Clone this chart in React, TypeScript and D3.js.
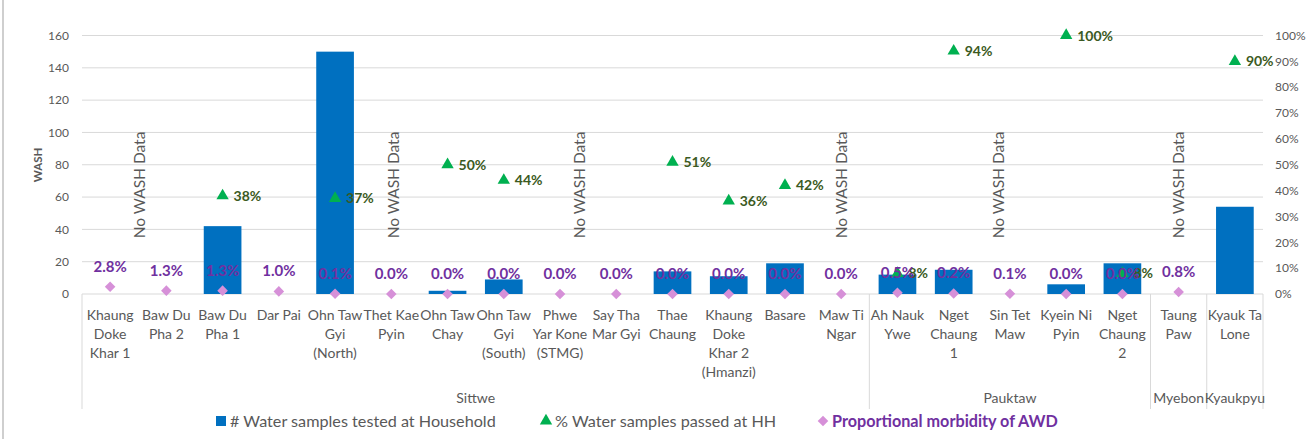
import React from "react";
import * as d3 from "d3";

// ---------- data ----------
const categories = [
  "Khaung\nDoke\nKhar 1",
  "Baw Du\nPha 2",
  "Baw Du\nPha 1",
  "Dar Pai",
  "Ohn Taw\nGyi\n(North)",
  "Thet Kae\nPyin",
  "Ohn Taw\nChay",
  "Ohn Taw\nGyi\n(South)",
  "Phwe\nYar Kone\n(STMG)",
  "Say Tha\nMar Gyi",
  "Thae\nChaung",
  "Khaung\nDoke\nKhar 2\n(Hmanzi)",
  "Basare",
  "Maw Ti\nNgar",
  "Ah Nauk\nYwe",
  "Nget\nChaung\n1",
  "Sin Tet\nMaw",
  "Kyein Ni\nPyin",
  "Nget\nChaung\n2",
  "Taung\nPaw",
  "Kyauk Ta\nLone",
];
const groupNames = ["Sittwe", "Pauktaw", "Myebon", "Kyaukpyu"];
const groupSizes = [14, 5, 1, 1];

const waterTested: (number | null)[] = [
  null, null, 42, null, 150, null, 2, 9, null, null, 14, 11, 19, null, 12, 15, null, 6, 19, null, 54,
];
const passedHH: (number | null)[] = [
  null, null, 0.38, null, 0.37, null, 0.5, 0.44, null, null, 0.51, 0.36, 0.42, null, 0.08, 0.94, null, 1.0, 0.08, null, 0.9,
];
const morbidityAWD: (number | null)[] = [
  0.028, 0.013, 0.013, 0.01, 0.001, 0, 0, 0, 0, 0, 0, 0, 0, 0, 0.005, 0.002, 0.001, 0, 0, 0.008, null,
];
const noWashIndex = [1, 5, 8, 13, 16, 19];
const noWashText = "No WASH Data";
const leftTicks = [0, 20, 40, 60, 80, 100, 120, 140, 160];
const rightTicks = [0, 0.1, 0.2, 0.3, 0.4, 0.5, 0.6, 0.7, 0.8, 0.9, 1.0];
const legendLabels = [
  "# Water samples tested at Household",
  "% Water samples passed at HH",
  "Proportional morbidity of AWD",
];
const yTitle = "WASH";

// ---------- layout ----------
const W = 1308;
const H = 439;
const X0 = 82;
const X1 = 1263;
const Y0 = 294;
const YTOP = 35.5;
const noWashNudge = [-27, 2, 20, 0, -11, 0];
const FONT = "Lato, 'Open Sans', sans-serif";
const GREY = "#595959";
const GRID = "#D9D9D9";
const BLUE = "#0070C0";
const GREEN = "#00B050";
const GREEN_TXT = "#3B5A22";
const PURPLE = "#7030A0";
const PINK = "#D690D8";

export default function App() {
  const x = d3
    .scaleBand<number>()
    .domain(d3.range(categories.length))
    .range([X0, X1])
    .paddingInner(0.33)
    .paddingOuter(0.165);
  const step = x.step();
  const cx = (i: number) => (x(i) as number) + x.bandwidth() / 2;
  const yL = d3.scaleLinear().domain([0, 160]).range([Y0, YTOP]);
  const yR = d3.scaleLinear().domain([0, 1]).range([Y0, YTOP]);
  const pct0 = d3.format(".0%");
  const pct1 = d3.format(".1%");

  // group boundaries
  const bounds: number[] = [X0];
  let acc = 0;
  groupSizes.forEach((s) => {
    acc += s;
    bounds.push(X0 + acc * step);
  });

  const tri = d3.symbol().type(d3.symbolTriangle).size(66)() as string;
  const dia = d3.symbol().type(d3.symbolSquare).size(56)() as string;

  return (
    <svg
      width={W}
      height={H}
      style={{ position: "absolute", left: 0, top: 0, background: "#fff" }}
      fontFamily={FONT}
    >
      <rect x={0} y={0} width={W} height={H} fill="#fff" />
      <line x1={3} x2={3} y1={0} y2={H} stroke="#BFBFBF" strokeWidth={1.5} />

      {/* gridlines */}
      {leftTicks.slice(1).map((t) => (
        <line key={"g" + t} x1={X0} x2={X1} y1={yL(t)} y2={yL(t)} stroke={GRID} strokeWidth={1} />
      ))}
      {/* category axis */}
      <line x1={X0} x2={X1} y1={Y0} y2={Y0} stroke={GRID} strokeWidth={1} />
      {bounds.map((b, i) => (
        <line key={"b" + i} x1={b} x2={b} y1={Y0} y2={409} stroke={GRID} strokeWidth={1} />
      ))}

      {/* left ticks */}
      {leftTicks.map((t) => (
        <text key={"lt" + t} x={69} y={yL(t)} dy="0.35em" textAnchor="end" fontSize={12} fill={GREY}>
          {t}
        </text>
      ))}
      {/* right ticks */}
      {rightTicks.map((t) => (
        <text key={"rt" + t} x={1275} y={yR(t)} dy="0.35em" textAnchor="start" fontSize={12} fill={GREY}>
          {pct0(t)}
        </text>
      ))}
      <text
        transform={`translate(38,165) rotate(-90)`}
        textAnchor="middle"
        dy="0.35em"
        fontSize={11.5}
        fontWeight="bold"
        fill={GREY}
      >
        {yTitle}
      </text>

      {/* bars */}
      {waterTested.map((v, i) =>
        v == null ? null : (
          <rect
            key={"bar" + i}
            x={x(i)}
            y={yL(v)}
            width={x.bandwidth()}
            height={Y0 - yL(v)}
            fill={BLUE}
          />
        )
      )}

      {/* No WASH Data notes */}
      {noWashIndex.map((ci, k) => (
        <text
          key={"nw" + ci}
          transform={`translate(${cx(ci) + noWashNudge[k]},185) rotate(-90)`}
          textAnchor="middle"
          dy="0.35em"
          fontSize={15.5}
          fill={GREY}
        >
          {noWashText}
        </text>
      ))}

      {/* triangles */}
      {passedHH.map((v, i) =>
        v == null ? null : (
          <g key={"tri" + i}>
            <path d={tri} transform={`translate(${cx(i)},${yR(v)})`} fill={GREEN} />
            <text x={cx(i) + 11} y={yR(v)} dy="0.36em" fontSize={14} fontWeight="bold" fill={GREEN_TXT}>
              {pct0(v)}
            </text>
          </g>
        )
      )}

      {/* diamonds */}
      {morbidityAWD.map((v, i) =>
        v == null ? null : (
          <path
            key={"dia" + i}
            d={dia}
            transform={`translate(${cx(i)},${yR(v)}) rotate(45)`}
            fill={PINK}
          />
        )
      )}
      {morbidityAWD.map((v, i) =>
        v == null ? null : (
          <text
            key={"dl" + i}
            x={cx(i)}
            y={yR(v) - 15}
            textAnchor="middle"
            fontSize={15}
            fontWeight="bold"
            fill={PURPLE}
          >
            {pct1(v)}
          </text>
        )
      )}

      {/* category labels */}
      {categories.map((c, i) => (
        <text key={"cat" + i} x={cx(i)} y={320} textAnchor="middle" fontSize={14} fill={GREY}>
          {c.split("\n").map((ln, j) => (
            <tspan key={j} x={cx(i)} dy={j === 0 ? 0 : 19}>
              {ln}
            </tspan>
          ))}
        </text>
      ))}
      {/* group labels */}
      {groupNames.map((g, i) => (
        <text
          key={"grp" + g}
          x={(bounds[i] + bounds[i + 1]) / 2}
          y={403}
          textAnchor="middle"
          fontSize={14}
          fill={GREY}
        >
          {g}
        </text>
      ))}

      {/* legend */}
      <rect x={216} y={416} width={10} height={10} fill={BLUE} />
      <text x={230} y={421} dy="0.36em" fontSize={16.2} fill={GREY}>
        {legendLabels[0]}
      </text>
      <path d={tri} transform="translate(546,421)" fill={GREEN} />
      <text x={555} y={421} dy="0.36em" fontSize={16.2} fill={GREY}>
        {legendLabels[1]}
      </text>
      <path d={dia} transform="translate(823,421) rotate(45)" fill={PINK} />
      <text x={832} y={421} dy="0.36em" fontSize={16.2} fontWeight="bold" fill={PURPLE}>
        {legendLabels[2]}
      </text>
    </svg>
  );
}
